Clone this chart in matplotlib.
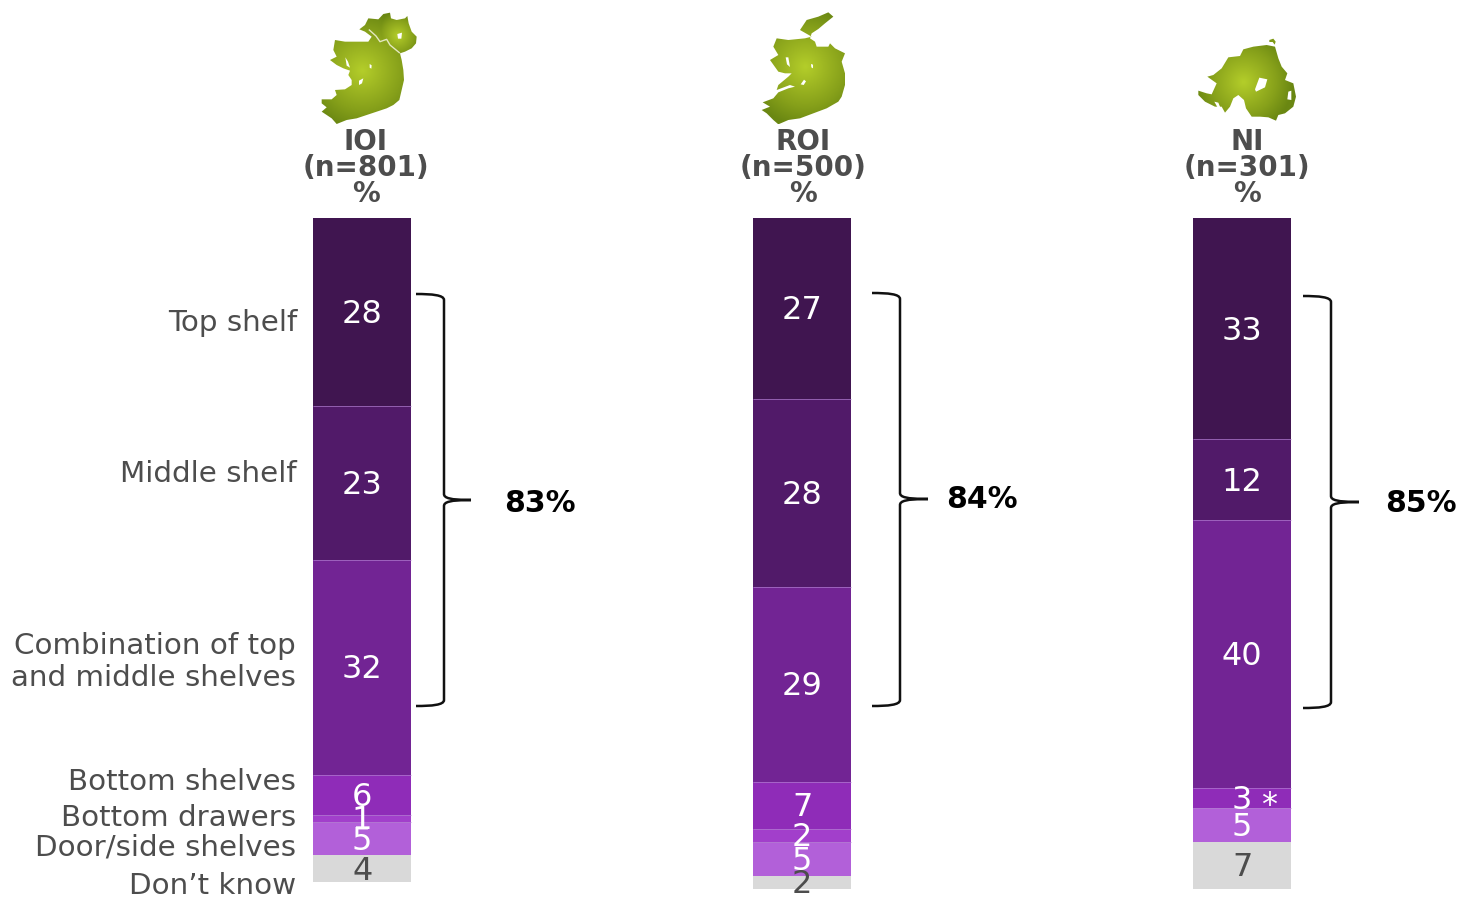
import numpy as np
import matplotlib
matplotlib.use("Agg")
import matplotlib.pyplot as plt
from matplotlib.path import Path
from matplotlib.patches import PathPatch, Polygon
from matplotlib.colors import LinearSegmentedColormap

# ---------- data ----------
categories = ["Top shelf", "Middle shelf", "Combination of top\nand middle shelves",
              "Bottom shelves", "Bottom drawers", "Door/side shelves", "Don\u2019t know"]
ioi_values = [28, 23, 32, 6, 1, 5, 4]
roi_values = [27, 28, 29, 7, 2, 5, 2]
ni_values = [33, 12, 40, 3, 0, 5, 7]
group_titles = ["IOI\n(n=801)\n%", "ROI\n(n=500)\n%", "NI\n(n=301)\n%"]
nets = ["83%", "84%", "85%"]
seg_colors = ["#401550", "#511A69", "#722494", "#8F2CB8", "#A23FCB", "#B260D9", "#D9D9D9"]
TXT = "#4D4D4D"

W, H = 1460, 902
fig = plt.figure(figsize=(14.6, 9.02), dpi=100, facecolor="white")
plt.rcParams["font.family"] = ["DejaVu Sans"]

# bars axis: value units on y, 6.71 px per unit, 0 at pixel row 218
PX = 6.71
ax = fig.add_axes([0, 0, 1, 1])
ax.set_xlim(0, W)
ax.set_ylim((H - 218) / PX, -218 / PX)
ax.axis("off")

# overlay in pixels for annotations
ov = fig.add_axes([0, 0, 1, 1])
ov.set_xlim(0, W)
ov.set_ylim(H, 0)
ov.axis("off")
ov.patch.set_alpha(0)

bar_x = [313.3, 753.3, 1193.3]
bar_w = 97.7
title_x = [366, 803, 1247]
for vals, x in zip([ioi_values, roi_values, ni_values], bar_x):
    bottom = 0
    for i, v in enumerate(vals):
        if v == 0:
            continue
        ax.bar(x, v, width=bar_w, bottom=bottom, align="edge", color=seg_colors[i], linewidth=0)
        if bottom > 0 and i < 6:
            ax.hlines(bottom, x, x + bar_w, color="#B27FD0", lw=0.6, alpha=0.8)
        c = TXT if i == 6 else "white"
        ax.text(x + bar_w / 2, bottom + v / 2 + 0.35, str(v), ha="center", va="center",
                fontsize=23, color=c)
        bottom += v

ov.text(1269, 806, "*", ha="center", va="center", fontsize=23, color="white")

for t, tx in zip(group_titles, title_x):
    ov.text(tx, 168, t, ha="center", va="center", fontsize=20, fontweight="bold",
            color=TXT, linespacing=0.91)

label_pos = [(297, 323), (297, 474), (296, 662), (296, 782), (296, 818), (296, 847), (296, 886)]
for lab, (lx, ly) in zip(categories, label_pos):
    ov.text(lx, ly, lab, ha="right", va="center", fontsize=21.2, color=TXT, linespacing=1.19,
            multialignment="right")


def brace(x0, xm, xt, y0, y1, yt):
    verts = [(x0, y0), (xm - 12, y0), (xm, y0 + 1), (xm, y0 + 6),
             (xm, yt - 6),
             (xm, yt - 2), (xm + 6, yt), (xt, yt),
             (xm + 6, yt), (xm, yt + 2), (xm, yt + 6),
             (xm, y1 - 6),
             (xm, y1 - 1), (xm - 12, y1), (x0, y1)]
    codes = [Path.MOVETO, Path.CURVE4, Path.CURVE4, Path.CURVE4,
             Path.LINETO,
             Path.CURVE4, Path.CURVE4, Path.CURVE4,
             Path.CURVE4, Path.CURVE4, Path.CURVE4,
             Path.LINETO,
             Path.CURVE4, Path.CURVE4, Path.CURVE4]
    ov.add_patch(PathPatch(Path(verts, codes), fc="none", ec="#111111", lw=1.8))


brace(416, 444, 471, 294, 706, 500)
brace(872, 900, 928, 293, 706, 499)
brace(1303, 1331, 1359, 296, 708, 502)
for t, tx, ty in zip(nets, [540, 982, 1421], [503, 499, 503]):
    ov.text(tx, ty, t, ha="center", va="center", fontsize=21.5, fontweight="bold", color="black")

# ---------- map decorations (pixel outlines) ----------
cmap = LinearSegmentedColormap.from_list("m", ["#B4CE2A", "#9DB622", "#86A01A", "#6A8712"])


def blob(outline, lakes, centres, border=None, extra=None):
    pts = np.array(outline, float)
    xs, ys = np.meshgrid(np.arange(pts[:, 0].min() - 1, pts[:, 0].max() + 1),
                         np.arange(pts[:, 1].min() - 1, pts[:, 1].max() + 1))
    d = np.min([np.hypot(xs - cx, ys - cy) / r for cx, cy, r in centres], axis=0)
    im = ov.imshow(d, extent=(xs.min(), xs.max(), ys.max(), ys.min()), cmap=cmap, vmin=0, vmax=1,
                   aspect="auto", zorder=2, interpolation="bilinear")
    clip = Polygon(pts, closed=True, transform=ov.transData, fc="none", ec="none")
    ov.add_patch(clip)
    im.set_clip_path(clip)
    for lake in lakes:
        ov.add_patch(Polygon(lake, closed=True, fc="white", ec="none", zorder=3))
    if extra is not None:
        ov.add_patch(Polygon(extra, closed=True, fc="#7F9A16", ec="none", zorder=3))
    if border is not None:
        ov.plot(*zip(*border), color="#E4E8C0", lw=1, zorder=3)
    ov.set_xlim(0, W)
    ov.set_ylim(H, 0)


def zoomed(points, ox, oy, s=3.0):
    return [(ox + a / s, oy + b / s) for a, b in points]


island = [(280, 42), (300, 38), (303, 55), (320, 60), (345, 55), (352, 48), (356, 70), (365, 95), (380, 110),
          (378, 130), (365, 145), (345, 155), (330, 160), (335, 180), (340, 210), (342, 240), (335, 270),
          (328, 300), (310, 315), (290, 325), (260, 335), (230, 345), (200, 355), (170, 360), (140, 372),
          (125, 355), (110, 345), (95, 335), (110, 322), (95, 310), (95, 298), (125, 298), (140, 285),
          (135, 270), (165, 268), (185, 255), (185, 240), (175, 225), (180, 212), (160, 205), (140, 195),
          (120, 180), (140, 170), (130, 150), (135, 120), (165, 125), (200, 125), (235, 125), (245, 110),
          (225, 95), (208, 88), (225, 75), (235, 55), (265, 58)]
ioi_lakes = [[(322, 102), (336, 98), (334, 116), (324, 116)], [(166, 172), (174, 185), (180, 203), (170, 197)],
             [(239, 192), (245, 196), (244, 206), (239, 203)], [(207, 242), (220, 235), (216, 250), (207, 255)]]
ni_border = [(238, 90), (258, 108), (270, 125), (290, 118), (300, 135), (328, 158)]
blob(zoomed(island, 290, 0), [zoomed(l, 290, 0) for l in ioi_lakes],
     [(362, 70, 60), (398, 35, 24)], border=zoomed(ni_border, 290, 0))

roi = [(235, 22), (250, 35), (225, 55), (205, 72), (185, 85), (180, 100), (195, 110), (200, 125), (235, 125),
       (240, 115), (255, 130), (285, 145), (275, 170), (285, 205), (285, 240), (275, 275), (265, 290),
       (230, 310), (190, 325), (150, 340), (115, 345), (85, 358), (70, 345), (50, 325), (35, 315), (60, 305),
       (38, 292), (70, 280), (85, 262), (115, 250), (135, 245), (120, 240), (80, 255), (85, 240), (115, 215),
       (125, 205), (105, 205), (85, 200), (60, 165), (85, 150), (70, 125), (80, 100), (115, 105), (165, 100),
       (185, 95), (150, 75), (170, 45), (205, 35)]
roi_lakes = [[(107, 157), (115, 157), (120, 186), (111, 178)], [(183, 177), (189, 179), (189, 190), (184, 187)],
             [(152, 238), (162, 224), (168, 229), (161, 240)]]
blob(zoomed(roi, 750, 5), [zoomed(l, 750, 5) for l in roi_lakes], [(805, 67, 60)])

ni_map = [(85, 272), (110, 280), (125, 283), (140, 250), (112, 230), (130, 225), (155, 205), (175, 172), (210, 168),
          (220, 148), (250, 140), (290, 135), (315, 140), (325, 175), (335, 200), (352, 220), (345, 240), (370, 250),
          (378, 290), (370, 320), (345, 340), (325, 345), (318, 362), (295, 352), (270, 350), (245, 350), (228, 325),
          (222, 300), (205, 285), (190, 295), (180, 320), (165, 338), (155, 320), (135, 320), (105, 305), (85, 285)]
ni_lakes = [[(268, 233), (292, 238), (285, 262), (258, 275), (255, 268)], [(355, 275), (364, 272), (364, 300), (352, 298)],
            [(133, 305), (145, 308), (155, 332), (148, 332)]]
rathlin = [(298, 120), (310, 116), (317, 125), (314, 134), (308, 126), (298, 126)]
blob(zoomed(ni_map, 1170, 0), [zoomed(l, 1170, 0) for l in ni_lakes], [(1244, 82, 50)],
     extra=zoomed(rathlin, 1170, 0))

fig.savefig("out.png", dpi=100, facecolor="white")
